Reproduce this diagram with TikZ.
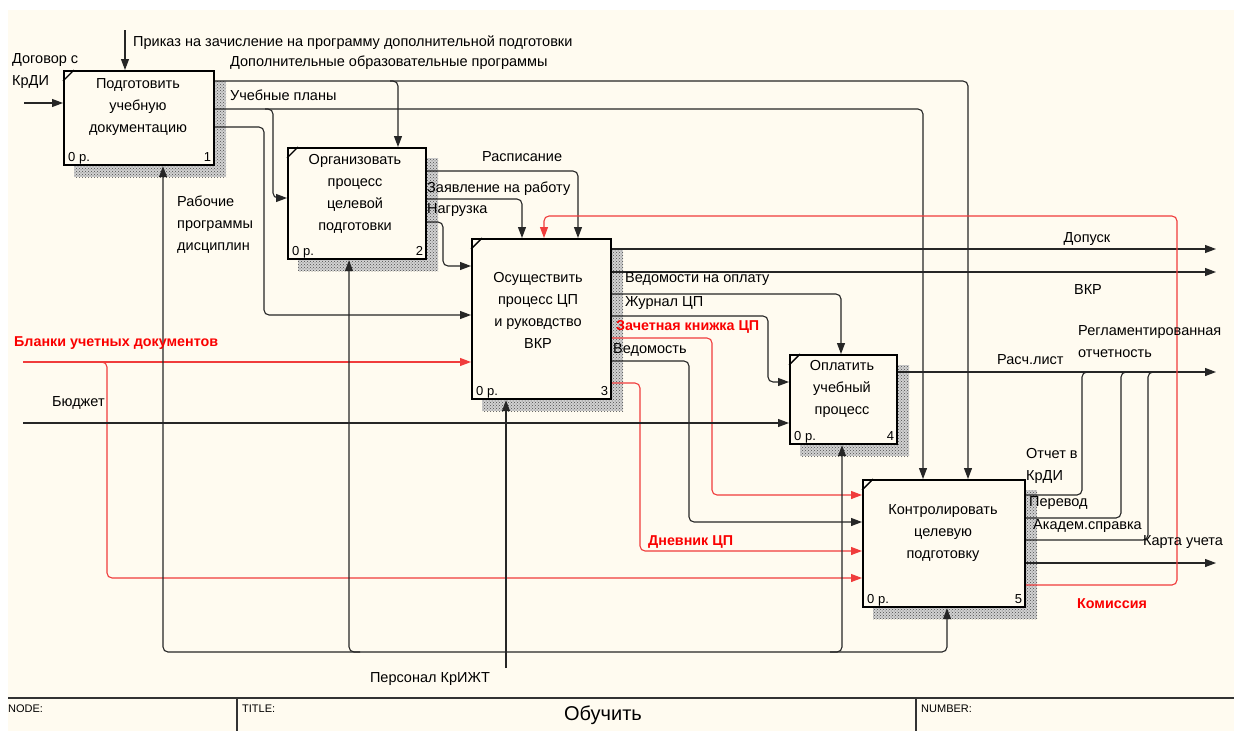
\documentclass[tikz,border=0pt]{standalone}
\usepackage{fontspec}
\setmainfont{Liberation Sans}
\usetikzlibrary{arrows.meta,patterns,backgrounds}
\definecolor{cream}{RGB}{255,251,240}
\definecolor{lred}{RGB}{240,60,60}
\definecolor{tred}{RGB}{250,0,0}
\tikzset{
  idefbox/.style={draw=black, line width=2.2pt, fill=cream, inner sep=0pt, anchor=north west},
  boxtext/.style={font=\fontsize{14.5}{22}\selectfont, align=center, inner sep=0pt},
  lab/.style={font=\fontsize{14.5}{22}\selectfont, inner sep=0pt, anchor=west, align=left},
  redlab/.style={lab, font=\fontsize{14.3}{22}\selectfont\bfseries, text=tred},
  cornerlab/.style={font=\fontsize{13}{15}\selectfont, inner sep=0pt},
  conn/.style={draw=black!85, line width=1.1pt, rounded corners=5pt},
  redc/.style={draw=lred, line width=1.1pt, rounded corners=5pt},
  arr/.style={-{Triangle[length=11pt,width=8pt]}},
  hatchbase/.style={fill=black!18},
  hatch/.style={pattern=crosshatch dots, pattern color=black!70},
  framelab/.style={font=\fontsize{11}{13}\selectfont, inner sep=0pt, anchor=west}
}
\begin{document}
\begin{tikzpicture}[x=1pt,y=-1pt]
\useasboundingbox (0,0) rectangle (1234,731);

% boxes
\node[idefbox, minimum width=150pt, minimum height=94pt]  (b1) at (63,70) {};
\node[idefbox, minimum width=138pt, minimum height=111pt] (b2) at (287,147) {};
\node[idefbox, minimum width=139pt, minimum height=160pt] (b3) at (471,238) {};
\node[idefbox, minimum width=107pt, minimum height=89pt]  (b4) at (789,354) {};
\node[idefbox, minimum width=162pt, minimum height=127pt] (b5) at (862,479) {};

\begin{scope}[on background layer]
  \fill[white] (0,0) rectangle (1234,731);
  \fill[cream] (8,10) rectangle (1234,731);
  \foreach \b in {b1,b2,b3,b4,b5}{
    \fill[hatchbase] ([xshift=11pt,yshift=-11pt]\b.north west) rectangle ([xshift=11pt,yshift=-11pt]\b.south east);
    \fill[hatch] ([xshift=11pt,yshift=-11pt]\b.north west) rectangle ([xshift=11pt,yshift=-11pt]\b.south east);
  }
\end{scope}

% box texts and corner marks
\node[boxtext] (t1) at (138,107) {Подготовить\\учебную\\документацию};
\node[boxtext] (t2) at (355,194) {Организовать\\процесс\\целевой\\подготовки};
\node[boxtext] (t3) at (538,310) {Осуществить\\процесс ЦП\\и руковдство\\ВКР};
\node[boxtext] (t4) at (842,389) {Оплатить\\учебный\\процесс};
\node[boxtext] (t5) at (943,533) {Контролировать\\целевую\\подготовку};

\foreach \b/\n in {b1/1,b2/2,b3/3,b4/4,b5/5}{
  \draw[line width=1.4pt] ([yshift=-11pt]\b.north west) -- ([xshift=11pt]\b.north west);
  \node[cornerlab, anchor=base west] at ([xshift=5pt,yshift=5pt]\b.south west) {0 р.};
  \node[cornerlab, anchor=base east] at ([xshift=-4pt,yshift=5pt]\b.south east) {\n};
}

% free ends
\coordinate (pr) at (125,30);
\coordinate (dog) at (24,103);
\coordinate (bl) at (23,362);
\coordinate (bud) at (23,423);
\coordinate (dop) at (1216,249);
\coordinate (vkr) at (1216,272);
\coordinate (rl) at (1216,372);
\coordinate (ku) at (1216,563);
\coordinate (pers) at (506,668);

% box 1
\draw[conn,arr] (pr) -- (pr |- b1.north);
\draw[conn,arr] (dog) -- (b1.west |- dog);
\draw[conn,arr] (b1.east |- 0,81) -- (968,81) -- (968,0 |- b5.north);
\draw[conn,arr] (390,81) -- (398,81) -- (398,0 |- b2.north);
\draw[conn,arr] (b1.east |- 0,109) -- (923,109) -- (923,0 |- b5.north);
\draw[conn,arr] (265,109) -- (273,109) -- (273,198) -- (b2.west |- 0,198);
\draw[conn,arr] (b1.east |- 0,127) -- (264,127) -- (264,315) -- (b3.west |- 0,315);

% box 2
\draw[conn,arr] (b2.east |- 0,171) -- (578,171) -- (578,0 |- b3.north);
\draw[conn,arr] (b2.east |- 0,199) -- (522,199) -- (522,0 |- b3.north);
\draw[conn,arr] (b2.east |- 0,222) -- (443,222) -- (443,266) -- (b3.west |- 0,266);

% box 3
\draw[conn,arr] (b3.east |- dop) -- (dop);
\draw[conn,arr] (b3.east |- vkr) -- (vkr);
\draw[conn,arr] (b3.east |- 0,294) -- (841,294) -- (841,0 |- b4.north);
\draw[conn,arr] (b3.east |- 0,316) -- (768,316) -- (768,382) -- (b4.west |- 0,382);
\draw[redc,arr] (b3.east |- 0,338) -- (712,338) -- (712,495) -- (b5.west |- 0,495);
\draw[conn,arr] (b3.east |- 0,361) -- (689,361) -- (689,522) -- (b5.west |- 0,522);
\draw[redc,arr] (b3.east |- 0,383) -- (640,383) -- (640,551) -- (b5.west |- 0,551);

% left inputs
\draw[redc,arr] (bl) -- (b3.west |- bl);
\draw[redc,arr] (101,362) -- (107,362) -- (107,578) -- (b5.west |- 0,578);
\draw[conn,arr] (bud) -- (b4.west |- bud);

% box 4 / box 5 outputs
\draw[conn,arr] (b4.east |- rl) -- (rl);
\draw[conn] (b5.east |- 0,495) -- (1082,495) -- (1082,372) -- (1090,372);
\draw[conn] (b5.east |- 0,518) -- (1121,518) -- (1121,372) -- (1129,372);
\draw[conn] (b5.east |- 0,540) -- (1148,540) -- (1148,372) -- (1156,372);
\draw[conn,arr] (b5.east |- ku) -- (ku);
\draw[redc,arr] (b5.east |- 0,585) -- (1177,585) -- (1177,216) -- (544,216) -- (544,0 |- b3.north);

% mechanisms
\draw[conn,{Triangle[length=11pt,width=8pt]}-{Triangle[length=11pt,width=8pt]}] (163,0 |- b1.south) -- (163,652) -- (947,652) -- (947,0 |- b5.south);
\draw[conn,arr] (360,652) -- (349,652) -- (349,0 |- b2.south);
\draw[conn,arr] (830,652) -- (842,652) -- (842,0 |- b4.south);
\draw[conn,arr] (pers) -- (506,0 |- b3.south);

% labels
\node[lab] (l1) at (133,43) {Приказ на зачисление на программу дополнительной подготовки};
\node[lab] (l2) at (230,63) {Дополнительные образовательные программы};
\node[lab] (l3) at (230,95) {Учебные планы};
\node[lab] (l4) at (12,71) {Договор с\\КрДИ};
\node[lab] (l5) at (177,225) {Рабочие\\программы\\дисциплин};
\node[lab] (l6) at (482,157) {Расписание};
\node[lab] (l7) at (427,189) {Заявление на работу};
\node[lab] (l8) at (427,210) {Нагрузка};
\node[lab, anchor=center] (l9) at (1087,239) {Допуск};
\node[lab, anchor=center] (l10) at (1088,290) {ВКР};
\node[lab] (l11) at (625,279) {Ведомости на оплату};
\node[lab] (l12) at (625,303) {Журнал ЦП};
\node[redlab] (l13) at (616,327) {Зачетная книжка ЦП};
\node[lab] (l14) at (613,350) {Ведомость};
\node[redlab] (l15) at (648,542) {Дневник ЦП};
\node[redlab] (l16) at (14,343) {Бланки учетных документов};
\node[lab] (l17) at (52,403) {Бюджет};
\node[lab] (l18) at (997,360) {Расч.лист};
\node[lab] (l19) at (1078,342) {Регламентированная\\отчетность};
\node[lab] (l20) at (1026,466) {Отчет в\\КрДИ};
\node[lab] (l21) at (1029,503) {Перевод};
\node[lab] (l22) at (1033,526) {Академ.справка};
\node[lab] (l23) at (1143,542) {Карта учета};
\node[redlab] (l24) at (1077,604) {Комиссия};
\node[lab, anchor=center] (l25) at (430,679) {Персонал КрИЖТ};

% frame
\draw[line width=1.3pt, black!80] (8,698) -- (1234,698);
\draw[line width=1.3pt, black!80] (237,698) -- (237,731);
\draw[line width=1.3pt, black!80] (916,698) -- (916,731);
\node[framelab] (f1) at (8,709) {NODE:};
\node[framelab] (f2) at (242,709) {TITLE:};
\node[framelab] (f3) at (921,709) {NUMBER:};
\node[font=\fontsize{20}{24}\selectfont, inner sep=0pt] (f4) at (603,715) {Обучить};
\end{tikzpicture}
\end{document}
